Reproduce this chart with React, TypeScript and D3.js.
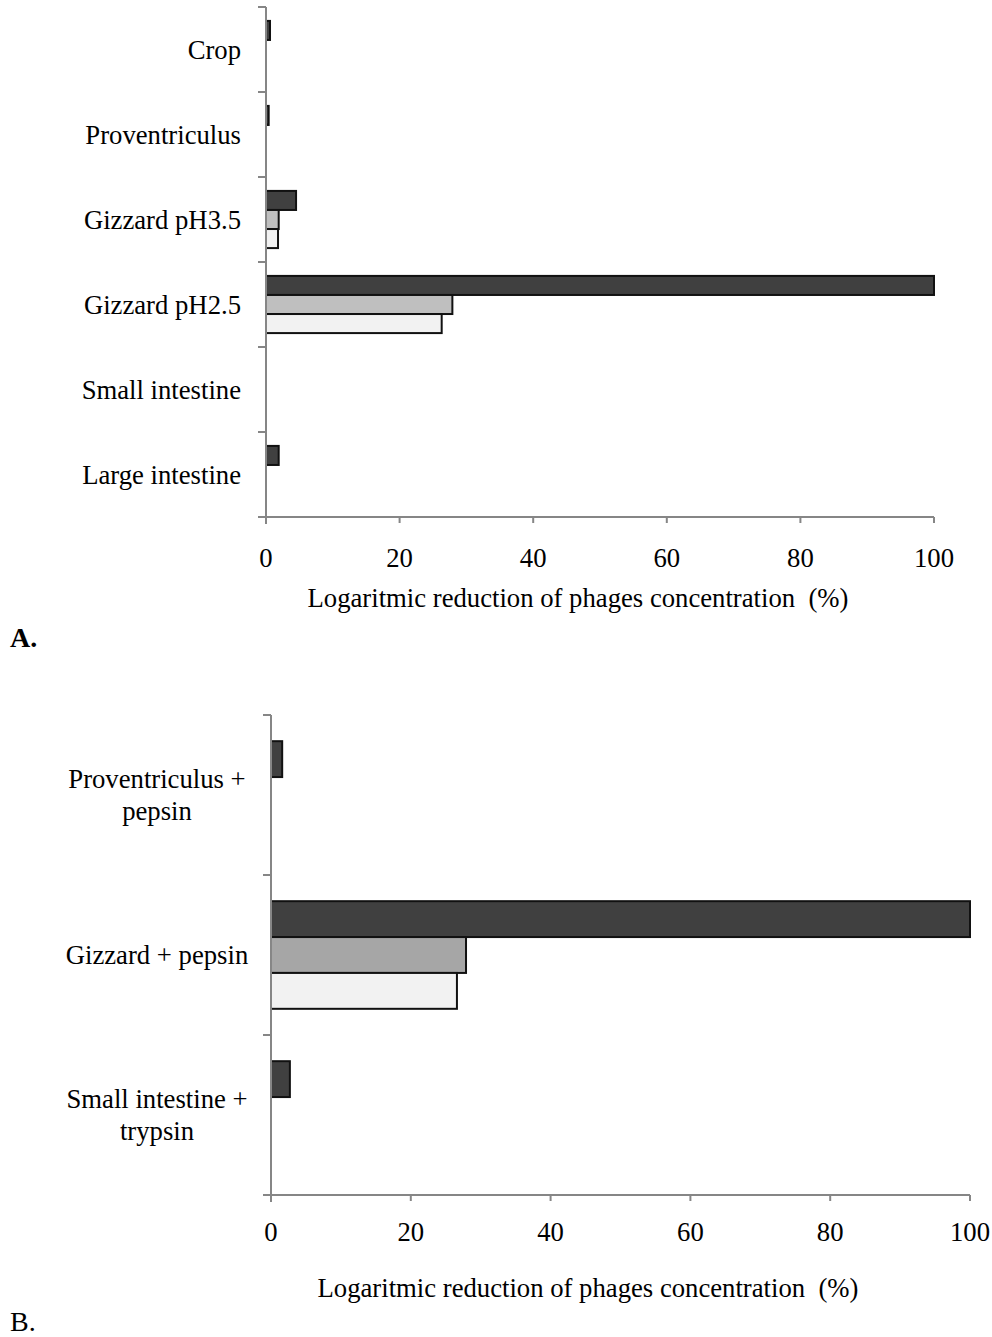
import React from "react";
import * as d3 from "d3";

const categoriesA = ["Crop", "Proventriculus", "Gizzard pH3.5", "Gizzard pH2.5", "Small intestine", "Large intestine"];
const darkA = [0.6, 0.4, 4.5, 100, 0, 1.9];
const greyA = [0, 0, 1.9, 27.9, 0, 0];
const lightA = [0, 0, 1.8, 26.3, 0, 0];

const categoriesB = [["Proventriculus +", "pepsin"], ["Gizzard + pepsin"], ["Small intestine +", "trypsin"]];
const darkB = [1.6, 100, 2.7];
const greyB = [0, 27.9, 0];
const lightB = [0, 26.6, 0];

const xTicks = [0, 20, 40, 60, 80, 100];
const axisTitle = "Logaritmic reduction of phages concentration  (%)";

const FONT = "'Liberation Serif', 'Times New Roman', serif";
const FS = 26.7;
const AXIS = "#868686";

type PanelProps = {
  labels: string[][];
  series: number[][];
  colors: string[];
  x0: number; x1: number; y0: number; y1: number;
  labelX: number; labelAnchor: "end" | "middle";
  tickLabelY: number; titleY: number; titleX: number;
};

function Panel(p: PanelProps) {
  const keys = p.labels.map((l) => l.join(" "));
  const x = d3.scaleLinear().domain([0, 100]).range([p.x0, p.x1]);
  const y = d3.scaleBand<string>().domain(keys).range([p.y0, p.y1]).paddingInner(0).paddingOuter(0);
  const sIdx = p.series.map((_, i) => String(i));
  const inner = d3.scaleBand<string>().domain(sIdx).range([0, y.bandwidth()]).paddingInner(0).paddingOuter(0.73);
  const catTicks = d3.range(keys.length + 1).map((i) => p.y0 + i * y.step());
  return (
    <g>
      {p.series.map((vals, si) =>
        vals.map((v, ci) =>
          v > 0 ? (
            <rect
              key={`${si}-${ci}`}
              x={x(0)}
              y={(y(keys[ci]) as number) + (inner(String(si)) as number)}
              width={x(v) - x(0)}
              height={inner.bandwidth()}
              fill={p.colors[si]}
              stroke="#111"
              strokeWidth={2}
            />
          ) : null
        )
      )}
      <line x1={p.x0} x2={p.x0} y1={p.y0} y2={p.y1 + 7} stroke={AXIS} strokeWidth={2} />
      {catTicks.map((t, i) => (
        <line key={i} x1={p.x0 - 8} x2={p.x0} y1={t} y2={t} stroke={AXIS} strokeWidth={2} />
      ))}
      <line x1={p.x0 - 8} x2={p.x1} y1={p.y1} y2={p.y1} stroke={AXIS} strokeWidth={2} />
      {xTicks.map((t) => (
        <g key={t}>
          <line x1={x(t)} x2={x(t)} y1={p.y1} y2={p.y1 + 6} stroke={AXIS} strokeWidth={2} />
          <text x={x(t)} y={p.tickLabelY} textAnchor="middle" fontSize={FS} fontFamily={FONT} fill="#000">
            {t}
          </text>
        </g>
      ))}
      {p.labels.map((lines, ci) => {
        const cy = (y(keys[ci]) as number) + y.bandwidth() / 2;
        const lh = 32;
        const start = cy - ((lines.length - 1) * lh) / 2;
        return (
          <text key={ci} textAnchor={p.labelAnchor} fontSize={FS} fontFamily={FONT} fill="#000">
            {lines.map((ln, li) => (
              <tspan key={li} x={p.labelX} y={start + li * lh + 9}>
                {ln}
              </tspan>
            ))}
          </text>
        );
      })}
      <text
        x={p.titleX}
        y={p.titleY}
        textAnchor="middle"
        fontSize={FS}
        fontFamily={FONT}
        fill="#000"
        style={{ whiteSpace: "pre" }}
      >
        {axisTitle}
      </text>
    </g>
  );
}

export default function App() {
  return (
    <svg width={992} height={1337} style={{ position: "absolute", left: 0, top: 0, background: "#fff" }}>
      <Panel
        labels={categoriesA.map((c) => [c])}
        series={[darkA, greyA, lightA]}
        colors={["#404040", "#bfbfbf", "#f2f2f2"]}
        x0={266} x1={934} y0={7} y1={517}
        labelX={241} labelAnchor="end"
        tickLabelY={567} titleY={607} titleX={578}
      />
      <text x={10} y={647} fontSize={28} fontWeight="bold" fontFamily={FONT} fill="#000">A.</text>
      <Panel
        labels={categoriesB}
        series={[darkB, greyB, lightB]}
        colors={["#404040", "#a6a6a6", "#f2f2f2"]}
        x0={271} x1={970} y0={715} y1={1195}
        labelX={157} labelAnchor="middle"
        tickLabelY={1241} titleY={1297} titleX={588}
      />
      <text x={10} y={1331} fontSize={28} fontFamily={FONT} fill="#000">B.</text>
    </svg>
  );
}
